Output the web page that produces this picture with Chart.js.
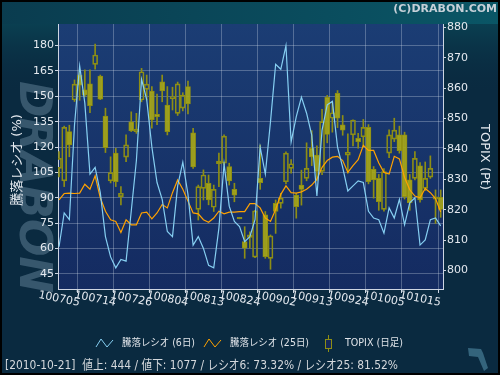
<!DOCTYPE html>
<html>
<head>
<meta charset="utf-8">
<script src="https://cdn.jsdelivr.net/npm/chart.js@4.4.0/dist/chart.umd.min.js"></script>
<style>
  html, body { margin: 0; padding: 0; background: #0a2a40; }
  canvas { display: block; }
</style>
</head>
<body>
<canvas id="grafico" width="500" height="375"></canvas>
<script>
// =========================
// DATOS
// =========================
const fechas = [
  '100705','100706','100707','100708','100709','100712','100713','100714','100715','100716',
  '100720','100721','100722','100723','100726','100727','100728','100729','100730','100802',
  '100803','100804','100805','100806','100809','100810','100811','100812','100813','100816',
  '100817','100818','100819','100820','100823','100824','100825','100826','100827','100830',
  '100831','100901','100902','100903','100906','100907','100908','100909','100910','100913',
  '100914','100915','100916','100917','100921','100922','100924','100927','100928','100929',
  '100930','101001','101004','101005','101006','101007','101008','101012','101013','101014',
  '101015','101018','101019','101020','101021'
];

// 騰落レシオ (6日)
const ratio6 = [
  61, 81, 77, 133, 168, 146, 104, 108, 93, 67,
  55, 48.5, 53.5, 52.5, 82, 112, 160, 148, 120, 99,
  89, 70, 67, 97, 111, 92, 62, 67, 60, 50,
  48.5, 72, 110, 85, 76, 73, 64, 67, 77, 120,
  104, 135, 169, 166, 180, 123, 138, 149.5, 140, 127,
  91, 130, 145, 147, 120, 108, 94, 97, 100, 99,
  82, 78, 77, 69, 84, 78, 89, 74, 87, 90,
  62, 65, 77, 78, 73.32
];

// 騰落レシオ (25日)
const ratio25 = [
  88.8, 92.5, 92.7, 92.5, 92.7, 98, 95, 103, 90, 82,
  77, 76, 69.5, 77, 74, 74, 81, 81.5, 77.5, 81,
  86, 84, 93, 100.5, 95, 88, 81, 80.5, 77, 75.5,
  78, 82, 80.5, 81.5, 81.5, 81.8, 81.8, 86.5, 86.5, 84,
  78, 76, 83, 92, 97, 93, 92.7, 93.5, 95, 97.5,
  101, 108, 112, 114, 114.5, 112, 105, 109, 112.5, 121,
  118, 118, 110.5, 105, 104, 114.5, 113, 102, 94.7, 91,
  90, 95.5, 93, 89.5, 81.52
];

// TOPIX (日足)
const topixApertura = [
  833.6, 829.5, 845.7, 856.1, 864.3, 859.4, 861.4, 867.8, 864.0, 850.8,
  829.5, 838.6, 824.3, 837.3, 848.9, 845.7, 856.1, 859.6, 859.0, 851.4,
  862.1, 854.4, 856.5, 851.7, 853.4, 860.5, 845.3, 820.1, 827.0, 828.7,
  820.8, 835.1, 835.3, 834.2, 826.7, 817.5, 809.5, 810.9, 804.4, 830.3,
  818.3, 804.0, 822.1, 822.1, 829.2, 833.6, 824.8, 828.1, 830.3, 840.2,
  838.0, 832.6, 857.0, 850.1, 858.3, 847.9, 837.9, 844.6, 843.5, 844.0,
  847.1, 833.3, 830.3, 820.1, 838.6, 843.2, 844.6, 844.6, 829.8, 830.3,
  834.4, 827.0, 830.7, 823.5, 824.1
];
const topixCierre = [
  836.9, 847.1, 841.3, 861.3, 861.0, 857.7, 854.2, 870.9, 856.4, 840.4,
  832.2, 829.2, 825.4, 841.3, 845.9, 846.5, 865.4, 861.3, 849.5, 850.6,
  859.1, 845.7, 857.2, 861.4, 857.7, 854.8, 834.1, 827.6, 831.4, 823.2,
  826.7, 836.0, 844.2, 829.5, 824.8, 817.0, 807.3, 811.7, 819.6, 828.9,
  804.5, 811.4, 819.4, 823.8, 838.6, 835.1, 821.0, 826.7, 833.6, 837.4,
  832.6, 849.0, 844.8, 851.9, 850.1, 846.2, 838.9, 849.5, 842.4, 847.1,
  829.2, 829.8, 822.6, 832.5, 844.6, 846.2, 839.4, 824.3, 822.3, 836.9,
  823.2, 830.3, 833.6, 824.2, 820.1
];
const topixMaximo = [
  839.1, 847.5, 847.8, 862.7, 866.0, 866.0, 866.0, 874.5, 864.3, 853.4,
  837.4, 840.2, 827.6, 844.6, 852.2, 851.7, 866.5, 864.3, 860.5, 858.0,
  864.3, 860.5, 860.3, 862.0, 858.5, 862.3, 846.8, 828.1, 833.1, 831.4,
  828.1, 838.6, 844.6, 835.3, 828.7, 817.5, 814.4, 812.7, 819.8, 841.3,
  819.4, 811.7, 823.2, 825.4, 839.0, 836.5, 825.4, 833.0, 842.0, 846.0,
  841.0, 853.0, 857.6, 855.5, 859.2, 851.0, 845.0, 849.6, 845.1, 849.7,
  848.0, 834.2, 831.6, 833.5, 846.3, 850.1, 847.5, 845.5, 831.6, 839.1,
  835.5, 835.7, 837.7, 826.5, 826.5
];
const topixMinimo = [
  830.8, 827.6, 837.4, 855.6, 856.0, 857.2, 851.9, 866.2, 856.2, 838.8,
  828.8, 827.6, 821.6, 835.8, 845.7, 845.1, 855.5, 856.1, 846.8, 848.0,
  855.5, 844.6, 852.8, 851.0, 852.5, 851.5, 833.6, 816.6, 823.2, 821.6,
  819.4, 827.6, 834.7, 828.1, 822.6, 817.0, 804.0, 807.3, 804.2, 826.7,
  804.0, 800.4, 812.2, 820.5, 828.5, 832.0, 817.2, 821.5, 829.5, 834.5,
  829.5, 831.5, 842.0, 845.5, 847.0, 844.5, 832.0, 841.0, 840.2, 840.7,
  828.5, 823.8, 819.8, 819.5, 837.1, 842.4, 838.6, 823.5, 819.8, 829.8,
  822.5, 826.3, 830.3, 815.5, 817.5
];

// Ticks de los ejes
const ticksIzq = [45, 60, 75, 90, 105, 120, 135, 150, 165, 180];
const ticksDer = [800, 810, 820, 830, 840, 850, 860, 870, 880];
const pasoFechas = 7;

const estado = '[2010-10-21]  値上: 444 / 値下: 1077 / レシオ6: 73.32% / レシオ25: 81.52%';

// =========================
// SERIES PARA CHART.JS
// =========================
const colorVela = '#8e8e14';
const rellenoVela = 'rgba(168,168,24,0.9)';

const cuerpos = fechas.map((f, i) => ({ x: i, y: [topixApertura[i], topixCierre[i]] }));
const mechasSup = fechas.map((f, i) => ({ x: i, y: [Math.max(topixApertura[i], topixCierre[i]), topixMaximo[i]] }));
const mechasInf = fechas.map((f, i) => ({ x: i, y: [topixMinimo[i], Math.min(topixApertura[i], topixCierre[i])] }));
const rellenos = fechas.map((f, i) => topixCierre[i] < topixApertura[i] ? rellenoVela : 'rgba(0,0,0,0)');

const FUENTE = '"DejaVu Sans", "Noto Sans CJK JP", sans-serif';
Chart.defaults.font.family = FUENTE;

// =========================
// PLUGINS DE DIBUJO
// =========================
const fondo = {
  id: 'fondo',
  beforeDraw(chart) {
    const c = chart.ctx;
    const { left, right, top, bottom } = chart.chartArea;
    c.save();
    c.fillStyle = '#0a2a40';
    c.fillRect(0, 0, 500, 375);

    const banda = c.createLinearGradient(0, 0, 500, 0);
    banda.addColorStop(0, '#0a3c4f');
    banda.addColorStop(1, '#0a5666');
    c.fillStyle = banda;
    c.fillRect(0, 0, 500, top);

    const fade = c.createLinearGradient(0, top, 0, top + 70);
    fade.addColorStop(0, 'rgba(10,72,88,0.7)');
    fade.addColorStop(1, 'rgba(10,42,64,0)');
    c.fillStyle = fade;
    c.fillRect(0, top, 500, 70);

    const area = c.createLinearGradient(0, top, 0, bottom);
    area.addColorStop(0, '#1b3d74');
    area.addColorStop(1, '#142b61');
    c.fillStyle = area;
    c.fillRect(left, top, right - left, bottom - top);

    // marca de agua
    c.translate(31, 187);
    c.rotate(Math.PI / 2);
    c.font = 'italic bold 44px "DejaVu Sans"';
    c.fillStyle = 'rgba(120,150,172,0.42)';
    c.textAlign = 'center';
    c.textBaseline = 'middle';
    c.fillText('DRABON', 0, 0);
    c.restore();
  }
};

function textoAncho(c, texto, x, y, ancho) {
  const w = c.measureText(texto).width;
  c.save();
  c.translate(x, y);
  c.scale(Math.min(1, ancho / w), 1);
  c.fillText(texto, 0, 0);
  c.restore();
}

function zigzag(c, x, y, color) {
  c.strokeStyle = color;
  c.lineWidth = 1;
  c.beginPath();
  c.moveTo(x, y + 4);
  c.lineTo(x + 5, y - 4);
  c.lineTo(x + 11, y + 4);
  c.lineTo(x + 17, y - 3);
  c.stroke();
}

const textos = {
  id: 'textos',
  afterDraw(chart) {
    const c = chart.ctx;
    const ejeX = chart.scales.x;
    c.save();
    c.fillStyle = '#e4e9ef';
    c.textAlign = 'center';
    c.textBaseline = 'middle';

    // etiquetas de fecha (inclinadas)
    c.font = '11px ' + FUENTE;
    ejeX.ticks.forEach(t => {
      const px = ejeX.getPixelForValue(t.value);
      c.save();
      c.translate(px, 299);
      c.rotate(0.2);
      c.fillText(fechas[t.value], 0, 0);
      c.restore();
    });

    // títulos de ejes
    c.font = '13px ' + FUENTE;
    c.save();
    c.translate(18, 160);
    c.rotate(-Math.PI / 2);
    c.fillText('騰落レシオ (%)', 0, 0);
    c.restore();
    c.save();
    c.translate(484, 157);
    c.rotate(Math.PI / 2);
    c.fillText('TOPIX (Pt)', 0, 0);
    c.restore();

    // copyright
    c.font = 'bold 11px ' + FUENTE;
    c.fillStyle = '#c6d0d8';
    c.textAlign = 'right';
    c.fillText('(C)DRABON.COM', 497, 9);

    // leyenda
    c.textAlign = 'left';
    c.fillStyle = '#dfe3e8';
    c.font = '10px ' + FUENTE;
    zigzag(c, 96, 343, '#86cff2');
    textoAncho(c, '騰落レシオ (6日)', 122, 343, 73);
    zigzag(c, 204, 343, '#ffa200');
    textoAncho(c, '騰落レシオ (25日)', 230, 343, 79);
    c.strokeStyle = colorVela;
    c.beginPath();
    c.moveTo(328.5, 335);
    c.lineTo(328.5, 352);
    c.stroke();
    c.fillStyle = '#15285a';
    c.fillRect(325.5, 339.5, 6, 9);
    c.strokeRect(325.5, 339.5, 6, 9);
    c.fillStyle = '#dfe3e8';
    textoAncho(c, 'TOPIX (日足)', 345, 343, 58);

    // línea de estado
    c.font = '13px ' + FUENTE;
    c.fillStyle = '#d4d8dc';
    textoAncho(c, estado, 5, 366, 393);

    // logo
    c.fillStyle = '#34647c';
    c.beginPath();
    c.moveTo(468, 348);
    c.lineTo(481, 349);
    c.lineTo(483, 353);
    c.lineTo(488, 368);
    c.lineTo(484, 371);
    c.lineTo(478, 357);
    c.lineTo(469, 356);
    c.closePath();
    c.fill();

    // borde
    c.strokeStyle = '#000';
    c.lineWidth = 2;
    c.strokeRect(1, 1, 498, 373);
    c.restore();
  }
};

// =========================
// GRÁFICO
// =========================
const gridColor = 'rgba(220,228,240,0.3)';
const ejeColor = '#cdd5e2';

new Chart(document.getElementById('grafico').getContext('2d'), {
  type: 'bar',
  data: {
    datasets: [
      {
        type: 'line',
        label: '騰落レシオ (6日)',
        data: ratio6.map((v, i) => ({ x: i, y: v })),
        yAxisID: 'y',
        borderColor: '#86cff2',
        borderWidth: 1.2,
        pointRadius: 0,
        tension: 0,
        order: 1
      },
      {
        type: 'line',
        label: '騰落レシオ (25日)',
        data: ratio25.map((v, i) => ({ x: i, y: v })),
        yAxisID: 'y',
        borderColor: '#ffa200',
        borderWidth: 1.2,
        pointRadius: 0,
        tension: 0,
        order: 2
      },
      {
        label: 'mecha sup',
        data: mechasSup,
        yAxisID: 'y2',
        backgroundColor: colorVela,
        barThickness: 1,
        grouped: false,
        order: 4
      },
      {
        label: 'mecha inf',
        data: mechasInf,
        yAxisID: 'y2',
        backgroundColor: colorVela,
        barThickness: 1,
        grouped: false,
        order: 4
      },
      {
        label: 'TOPIX (日足)',
        data: cuerpos,
        yAxisID: 'y2',
        backgroundColor: rellenos,
        borderColor: colorVela,
        borderWidth: 1,
        borderSkipped: false,
        barThickness: 5,
        grouped: false,
        order: 3
      }
    ]
  },
  options: {
    responsive: false,
    animation: false,
    devicePixelRatio: 1,
    layout: { padding: { top: 24, left: 0, right: 0, bottom: 0 } },
    plugins: { legend: { display: false }, tooltip: { enabled: false } },
    scales: {
      x: {
        type: 'linear',
        min: -0.2,
        max: 74.45,
        offset: false,
        afterBuildTicks: s => {
          s.ticks = fechas.map((f, i) => i).filter(i => i % pasoFechas === 0).map(v => ({ value: v }));
        },
        afterFit: s => { s.height = 86; },
        ticks: { display: false },
        grid: { color: gridColor, tickColor: ejeColor, tickLength: 4 },
        border: { color: ejeColor }
      },
      y: {
        position: 'left',
        min: 36,
        max: 192.8,
        afterBuildTicks: s => { s.ticks = ticksIzq.map(v => ({ value: v })); },
        afterFit: s => { s.width = 58; },
        ticks: { color: '#e4e9ef', font: { size: 11 }, padding: 1 },
        grid: { color: gridColor, tickColor: ejeColor, tickLength: 3 },
        border: { color: ejeColor }
      },
      y2: {
        position: 'right',
        min: 793.9,
        max: 881.1,
        afterBuildTicks: s => { s.ticks = ticksDer.map(v => ({ value: v })); },
        afterFit: s => { s.width = 57; },
        ticks: { color: '#e4e9ef', font: { size: 11 }, padding: 1 },
        grid: { drawOnChartArea: false, tickColor: ejeColor, tickLength: 3 },
        border: { color: ejeColor }
      }
    }
  },
  plugins: [fondo, textos]
});
</script>
</body>
</html>
